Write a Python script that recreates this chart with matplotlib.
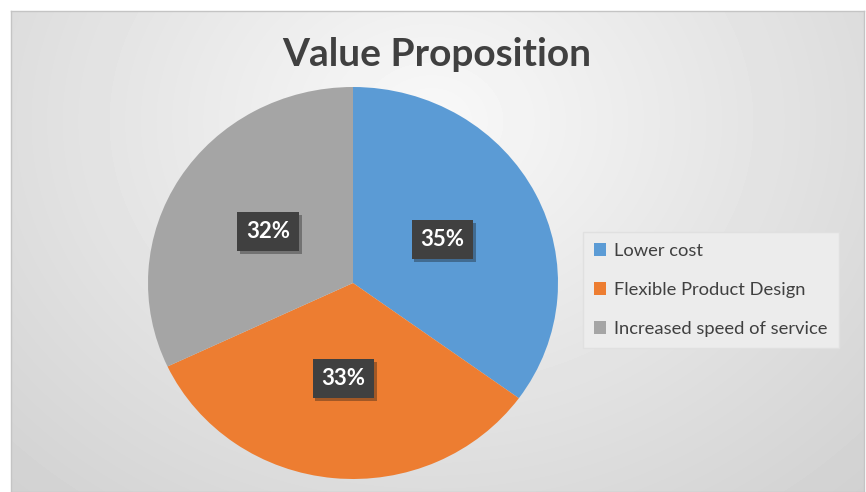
import numpy as np
import matplotlib.pyplot as plt
import matplotlib.patheffects as pe

# Data
labels = ['Lower cost', 'Flexible Product Design', 'Increased speed of service']
shares = [35, 33, 32]
colors = ['#5B9BD5', '#ED7D31', '#A5A5A5']
title = 'Value Proposition'

W, H = 866, 492
fig = plt.figure(figsize=(W / 100, H / 100), dpi=100)
fig.patch.set_facecolor('white')

# Chart area background: radial grey gradient
bg = fig.add_axes([11 / W, 0, 853 / W, 481 / H])
yy, xx = np.mgrid[0:481, 0:853]
d = np.sqrt(((xx - 420) / 560.0) ** 2 + ((yy - 110) / 460.0) ** 2)
shade = np.clip(0.975 - 0.14 * d, 0.8, 0.975)
bg.imshow(shade, cmap='gray', vmin=0, vmax=1, aspect='auto', interpolation='bilinear')
bg.set_xticks([])
bg.set_yticks([])
for s in bg.spines.values():
    s.set_color('#c4c4c4')
    s.set_linewidth(1.0)

# Title
fig.text(437 / W, 1 - 55 / H, title, ha='center', va='center',
         fontsize=28, fontweight='bold', color='#404040', family=['Lato', 'DejaVu Sans'])

# Pie (center ~ (353, 283), radius ~205 x 196 px)
ax = fig.add_axes([(353 - 205) / W, 1 - (283 + 196) / H, 410 / W, 392 / H])
ax.set_facecolor('none')
wedges, texts = ax.pie(shares, colors=colors, startangle=90, counterclock=False,
                       labels=[f'{v}%' for v in shares], labeldistance=0.49,
                       wedgeprops=dict(linewidth=0))
ax.set_aspect('auto')
ax.set_xlim(-1, 1)
ax.set_ylim(-1, 1)
for t in texts:
    t.set_ha('center')
    t.set_va('center')
    t.set_color('white')
    t.set_fontsize(16)
    t.set_fontweight('bold')
    t.set_family(['Lato', 'DejaVu Sans'])
    t.set_bbox(dict(boxstyle='square,pad=0.4', facecolor='#404040', edgecolor='none',
                    path_effects=[pe.SimplePatchShadow(offset=(2, -2), alpha=0.35), pe.Normal()]))

# Legend
leg = fig.legend(wedges, labels, loc='upper left', bbox_to_anchor=(583 / W, 1 - 232 / H),
                 borderaxespad=0, frameon=True, fancybox=False, handlelength=0.65,
                 handleheight=0.65, handletextpad=0.45, labelspacing=1.25, borderpad=0.6,
                 prop=dict(family=['Lato', 'DejaVu Sans'], size=13.2), labelcolor='#404040')
leg.get_frame().set_facecolor('#ececec')
leg.get_frame().set_edgecolor('#e0e0e0')
leg.get_frame().set_alpha(1)

fig.savefig('out.png', dpi=100)
